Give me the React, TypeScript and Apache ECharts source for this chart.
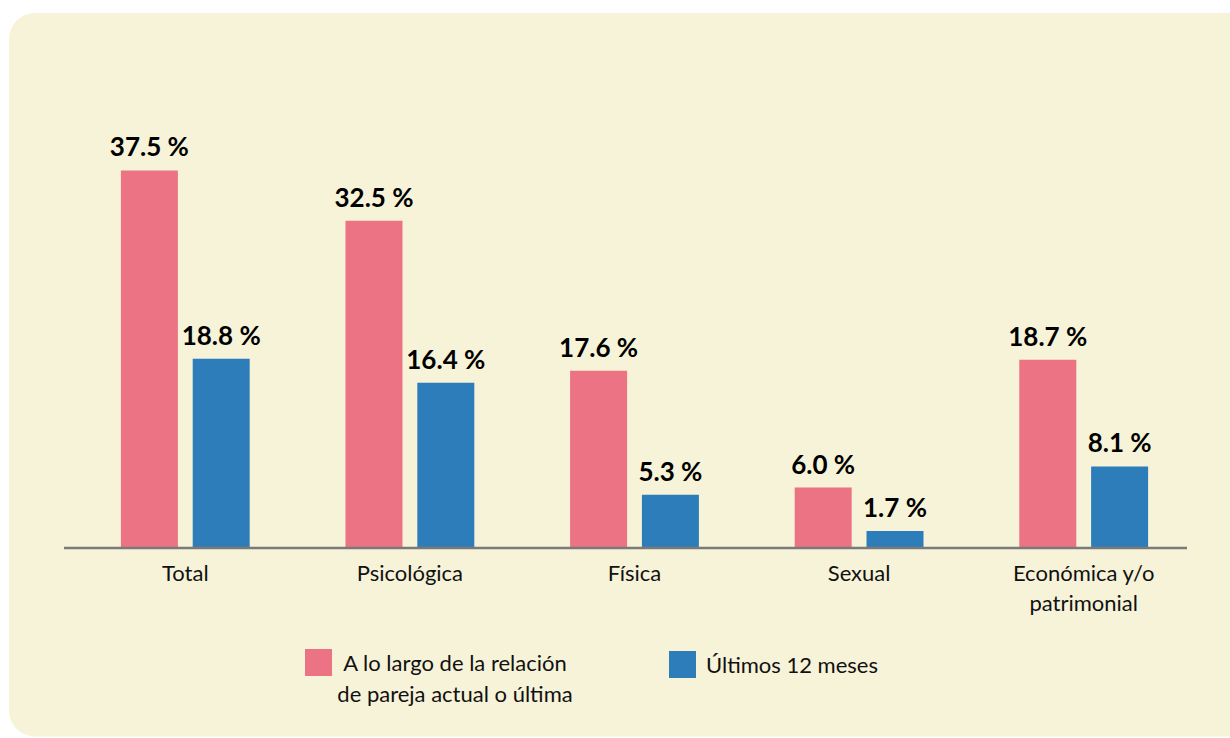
import React, { useEffect, useRef } from "react";
import * as echarts from "echarts";

const categories = ["Total", "Psicológica", "Física", "Sexual", "Económica y/o\npatrimonial"];
const seriesNames = ["A lo largo de la relación\nde pareja actual o última", "Últimos 12 meses"];
const lifetimeValues = [37.5, 32.5, 17.6, 6.0, 18.7];
const last12Values = [18.8, 16.4, 5.3, 1.7, 8.1];

const FONT = "Lato, 'Noto Sans', sans-serif";

export default function App() {
  const ref = useRef<HTMLDivElement>(null);
  useEffect(() => {
    document.body.style.margin = "0";
    const chart = echarts.init(ref.current!, null, { renderer: "svg" });
    const label = {
      show: true,
      position: "top",
      distance: 11,
      fontFamily: FONT,
      fontWeight: "bold",
      fontSize: 26,
      color: "#000",
      formatter: (p: any) => `${Number(p.value).toFixed(1)} %`,
    };
    const legendText = {
      fontSize: 22,
      lineHeight: 31,
      color: "#111",
      fontFamily: FONT,
    };
    chart.setOption({
      animation: false,
      backgroundColor: "#ffffff",
      textStyle: { fontFamily: FONT },
      graphic: [
        {
          type: "rect",
          z: -10,
          shape: { x: 9, y: 13, width: 1260, height: 723.5, r: 26 },
          style: { fill: "#f7f3d8" },
        },
        {
          type: "line",
          z: 10,
          shape: { x1: 64, y1: 548, x2: 1187, y2: 548 },
          style: { stroke: "#7a7a7a", lineWidth: 2.5 },
        },
      ],
      grid: { left: 73, right: 34, top: 145.2, bottom: 190, containLabel: false },
      xAxis: {
        type: "category",
        data: categories,
        axisLine: { show: false },
        axisTick: { show: false },
        axisLabel: {
          margin: 9,
          fontSize: 22,
          lineHeight: 30,
          color: "#111",
          fontFamily: FONT,
          interval: 0,
        },
      },
      yAxis: {
        type: "value",
        min: 0,
        max: 40,
        show: false,
        splitLine: { show: false },
      },
      legend: [
        {
          left: 305,
          top: 616,
          padding: 0,
          itemWidth: 27,
          itemHeight: 27,
          icon: "rect",
          data: [seriesNames[0]],
          formatter: (name: string) =>
            "\n" + name.split("\n").map((l) => `{c|${l}}`).join("\n"),
          textStyle: {
            ...legendText,
            rich: {
              c: { ...legendText, width: 236, align: "center" },
            },
          },
        },
        {
          left: 669,
          top: 649,
          padding: 0,
          itemWidth: 27,
          itemHeight: 27,
          icon: "rect",
          data: [seriesNames[1]],
          textStyle: { ...legendText, padding: [0, 0, 0, 5] },
        },
      ],
      series: [
        {
          name: seriesNames[0],
          type: "bar",
          data: lifetimeValues,
          barWidth: 57,
          barGap: "26%",
          itemStyle: { color: "#ec7384" },
          label,
        },
        {
          name: seriesNames[1],
          type: "bar",
          data: last12Values,
          barWidth: 57,
          barGap: "26%",
          itemStyle: { color: "#2e7dbb" },
          label,
        },
      ],
    });
    return () => chart.dispose();
  }, []);
  return (
    <div
      ref={ref}
      style={{ position: "absolute", left: 0, top: 0, width: 1230, height: 738 }}
    />
  );
}
